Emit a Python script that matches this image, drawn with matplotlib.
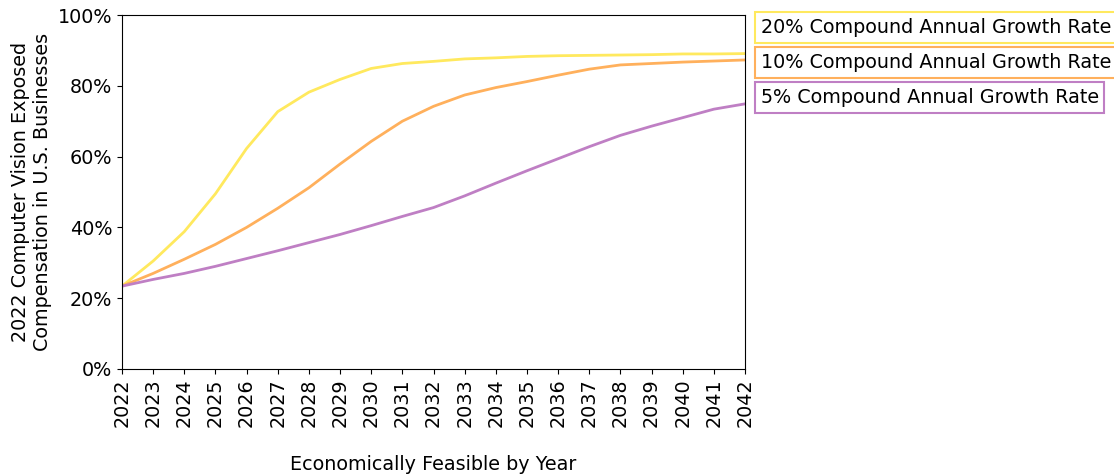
import numpy as np
import matplotlib.pyplot as plt

years = list(range(2022, 2043))
cagr_20 = [23.4, 30.5, 38.8, 49.5, 62.3, 72.7, 78.2, 81.8, 84.9, 86.3, 86.9,
           87.6, 87.9, 88.3, 88.5, 88.6, 88.7, 88.8, 89.0, 89.0, 89.1]
cagr_10 = [23.4, 27.0, 31.0, 35.2, 40.0, 45.4, 51.2, 57.9, 64.3, 70.0, 74.2,
           77.4, 79.5, 81.2, 83.0, 84.7, 85.9, 86.3, 86.7, 87.0, 87.3]
cagr_5 = [23.4, 25.3, 27.0, 29.0, 31.2, 33.4, 35.7, 38.0, 40.5, 43.1, 45.6,
          48.9, 52.5, 56.0, 59.4, 62.8, 66.0, 68.6, 71.0, 73.4, 74.9]
labels = ["20% Compound Annual Growth Rate",
          "10% Compound Annual Growth Rate",
          "5% Compound Annual Growth Rate"]
colors = ["#ffe95e", "#ffb05c", "#bf7fc4"]

plt.rcParams['font.size'] = 13.8
fig = plt.figure(figsize=(11.14, 4.75), dpi=100)
ax = fig.add_axes([0.1095, 0.2232, 0.5593, 0.7452])

for vals, c in zip([cagr_20, cagr_10, cagr_5], colors):
    ax.plot(years, np.array(vals) / 100, color=c, lw=2)

ax.set_xlim(2022, 2042)
ax.set_ylim(0, 1)
ax.set_xticks(years)
ax.set_xticklabels([str(y) for y in years], rotation=90)
ax.set_yticks(np.arange(0, 1.01, 0.2))
ax.set_yticklabels(["%d%%" % v for v in range(0, 101, 20)])
ax.set_xlabel("Economically Feasible by Year", labelpad=20)
ax.set_ylabel("2022 Computer Vision Exposed\nCompensation in U.S. Businesses")

for i, (lab, c) in enumerate(zip(labels, colors)):
    ax.text(1.025, 0.965 - i * 0.099, lab, transform=ax.transAxes,
            va='center', ha='left',
            bbox=dict(boxstyle='square,pad=0.3', fc='white', ec=c, lw=1.5))

fig.savefig("out.png", dpi=100)
